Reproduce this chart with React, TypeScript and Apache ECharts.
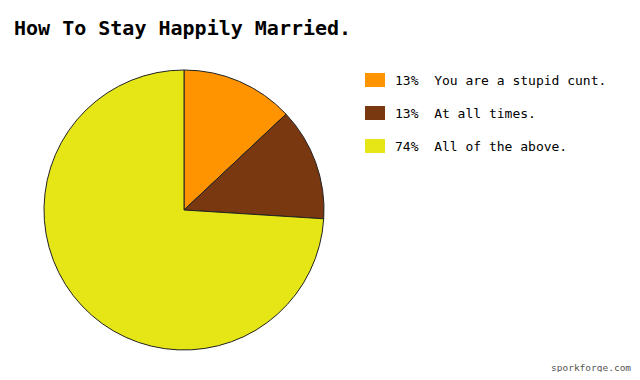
import React, { useEffect, useRef } from "react";
import * as echarts from "echarts";

const categories = ["You are a stupid cunt.", "At all times.", "All of the above."];
const values = [13, 13, 74];
const colors = ["#FF9400", "#7A3811", "#E6E617"];

export default function App() {
  const ref = useRef<HTMLDivElement>(null);
  useEffect(() => {
    const chart = echarts.init(ref.current!, null, { renderer: "svg" });
    const total = values.reduce((a, b) => a + b, 0);
    chart.setOption({
      animation: false,
      backgroundColor: "#ffffff",
      title: {
        text: "How To Stay Happily Married.",
        left: 9,
        top: 13,
        textStyle: {
          fontFamily: "DejaVu Sans Mono",
          fontSize: 20,
          fontWeight: "bold",
          color: "#000",
        },
      },
      graphic: [
        {
          type: "text",
          left: 551,
          top: 362,
          style: {
            text: "sporkforge.com",
            font: "9.5px 'DejaVu Sans Mono'",
            fill: "#555",
          },
        },
      ],
      legend: {
        orient: "vertical",
        left: 360,
        top: 68,
        itemWidth: 20,
        itemHeight: 14,
        itemGap: 19,
        icon: "rect",
        itemStyle: { borderWidth: 0 },
        textStyle: {
          fontFamily: "DejaVu Sans Mono",
          fontSize: 13,
          color: "#000",
          padding: [0, 0, 0, 5],
        },
        formatter: (name: string) => {
          const i = categories.indexOf(name);
          return `${Math.round((values[i] / total) * 100)}%  ${name}`;
        },
      },
      series: [
        {
          type: "pie",
          center: [184, 210],
          radius: 140,
          startAngle: 90,
          clockwise: true,
          label: { show: false },
          labelLine: { show: false },
          emphasis: { disabled: true },
          itemStyle: { borderColor: "#222", borderWidth: 1 },
          data: categories.map((c, i) => ({
            name: c,
            value: values[i],
            itemStyle: { color: colors[i] },
          })),
        },
      ],
    });
    return () => chart.dispose();
  }, []);
  return <div ref={ref} style={{ width: 640, height: 380, margin: -8 }} />;
}
